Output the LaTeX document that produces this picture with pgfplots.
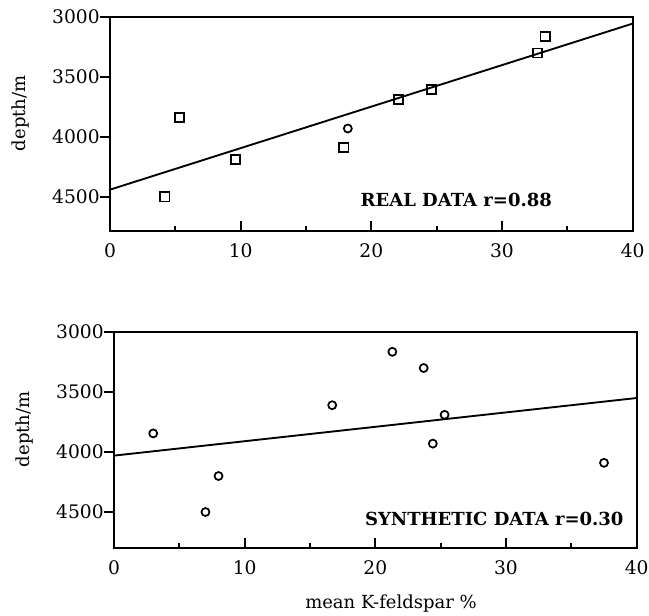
\documentclass[border=0pt]{standalone}
\usepackage{fontspec}
\setmainfont{DejaVu Serif}
\usepackage{pgfplots}
\pgfplotsset{compat=1.18}

\pgfplotsset{
  kfs/.style={
    scale only axis, width=392pt,
    xmin=0, xmax=40, ymin=3000, y dir=reverse,
    xtick={0,10,20,30,40}, ytick={3000,3500,4000,4500},
    minor x tick num=1,
    xtick pos=left, ytick pos=left,
    xtick align=inside, ytick align=outside,
    major tick length=7.5pt, minor tick length=3.5pt,
    tick style={line width=1.3pt, black},
    major y tick style={line width=1.6pt},
    axis line style={line width=1.5pt},
    tick label style={font=\fontsize{14}{16}\selectfont},
    xticklabel style={yshift=-6pt},
    yticklabel style={inner xsep=0pt},
    /pgf/number format/assume math mode=true,
    /pgf/number format/set thousands separator={},
    ylabel={depth/m},
    label style={font=\fontsize{13.5}{16}\selectfont},
    ylabel style={at={(axis description cs:-0.172,0.55)}, anchor=center},
  },
  sq/.style={only marks, mark=square, mark size=3.4pt, mark options={line width=1.3pt, black}},
  ci/.style={only marks, mark=o, mark size=3pt, mark options={line width=1.3pt, black}},
  fit/.style={no marks, line width=1.4pt, black},
}

\begin{document}
\begin{tikzpicture}
\path[use as bounding box] (-82.5pt,12.75pt) rectangle (404.25pt,-448.5pt);

% real data
\begin{axis}[kfs, at={(0pt,0pt)}, anchor=north west, height=160.5pt, ymax=4785]
  \addplot[sq] coordinates {(4.2,4500) (5.3,3840) (9.6,4190) (17.9,4090)
                            (22.1,3690) (24.6,3605) (32.7,3300) (33.3,3165)};
  \addplot[ci] coordinates {(18.2,3930)};
  \addplot[fit] coordinates {(0,4440) (40,3055)};
  \node[font=\bfseries\fontsize{13.5}{16}\selectfont] at (axis cs:26.5,4530) {REAL DATA r=0.88};
\end{axis}

% synthetic data
\begin{axis}[kfs, at={(3pt,-236.25pt)}, anchor=north west, height=162pt, ymax=4800,
  xlabel={mean K-feldspar \%},
  xlabel style={at={(axis description cs:0.53,-0.255)}, anchor=center}]
  \addplot[ci] coordinates {(3.0,3845) (7.0,4500) (8.0,4200) (16.7,3610) (21.3,3165)
                            (23.7,3300) (24.4,3930) (25.3,3690) (37.5,4090)};
  \addplot[fit] coordinates {(0,4030) (40,3550)};
  \node[font=\bfseries\fontsize{13.5}{16}\selectfont] at (axis cs:29.1,4559) {SYNTHETIC DATA r=0.30};
\end{axis}
\end{tikzpicture}
\end{document}
